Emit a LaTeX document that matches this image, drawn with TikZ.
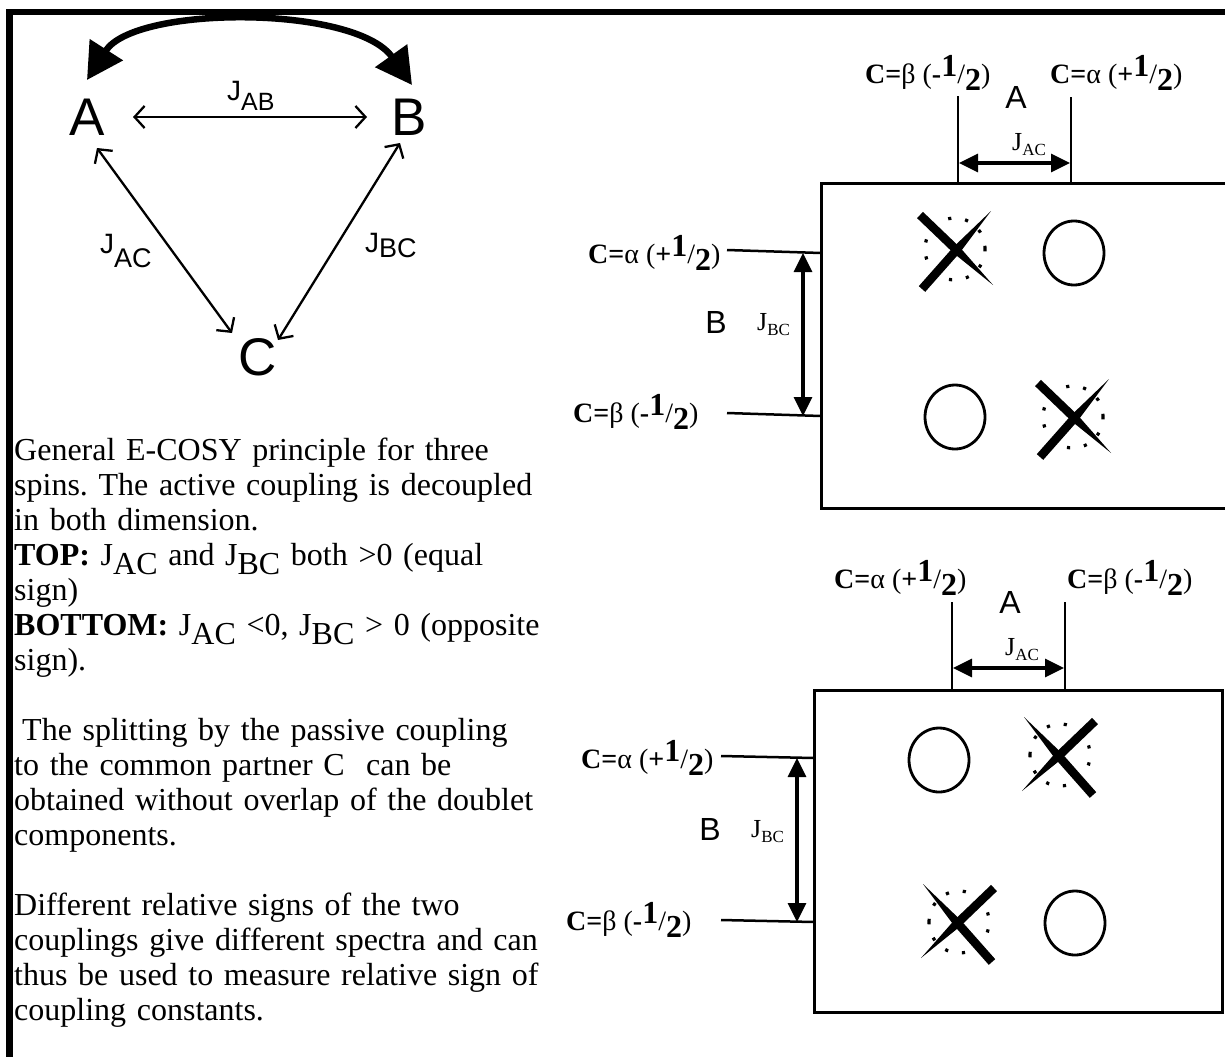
\documentclass[tikz,border=0pt]{standalone}
\usepackage{fontspec}
\setmainfont{Liberation Serif}
\newfontfamily\arialfam{Liberation Sans}
\usetikzlibrary{arrows.meta}
\newcommand\fsz[1]{\fontsize{#1}{#1}\selectfont}
\newcommand\labBeta{\textbf{C=}β (\textbf{-}\raisebox{7pt}{\fsz{32}\bfseries 1}/\raisebox{-7pt}{\fsz{32}\bfseries 2})}
\newcommand\labAlpha{\textbf{C=}α (\textbf{+}\raisebox{7pt}{\fsz{32}\bfseries 1}/\raisebox{-7pt}{\fsz{32}\bfseries 2})}
\newcommand\lowsub[2]{\raisebox{-#1}{#2}}
\newcommand\jr[1]{J\raisebox{-5pt}{\fsz{17}#1}}
\begin{document}
\begin{tikzpicture}[x=1pt,y=-1pt,
  bigl/.style={font=\arialfam\fsz{53}, inner sep=0pt, anchor=base},
  jlab/.style={font=\arialfam\fsz{28}, inner sep=0pt, anchor=base west},
  rlet/.style={font=\arialfam\fsz{32}, inner sep=0pt, anchor=base},
  jrl/.style={font=\fsz{26}, inner sep=0pt, anchor=base west},
  clab/.style={font=\fsz{28}, inner sep=0pt, anchor=base west},
  tri/.style={line width=2.3pt, {Straight Barb[length=10pt,width=22pt]}-{Straight Barb[length=10pt,width=22pt]}},
  dblarr/.style={line width=3.2pt, {Triangle[length=19pt,width=18pt]}-{Triangle[length=19pt,width=18pt]}},
  thinl/.style={line width=2.5pt},
  boxl/.style={line width=3pt},
  ring/.style={line width=2.8pt},
  xmk/.pic={
    \fill (-36.22,34.15) -- (-29.78,39.85) -- (4.72,0.85) -- (36,-41) -- (-1.72,-4.85) -- cycle;
    \fill (-37.98,-33.90) -- (-32.02,-40.10) -- (4.48,-5.10) -- (38,33) -- (-1.48,1.10) -- cycle;
    \draw[line width=3.2pt, dash pattern=on 3.2pt off 14pt] (0,-3) ellipse [x radius=30pt, y radius=31pt];
  }
]
\fill[white] (0,0) rectangle (1225,1057);
\useasboundingbox (0,0) rectangle (1225,1057);
% frame
\fill (6,9) rectangle (13,1057);
\fill (6,9) rectangle (1225,15);

% ---- triangle of spins ----
\node[bigl] (A) at (87,135) {A};
\node[bigl] (B) at (409,135) {B};
\node[bigl] (C) at (258,375) {C};
\coordinate (AtoB) at (133,117);
\coordinate (BtoA) at (367,117);
\coordinate (AtoC) at (97,148);
\coordinate (CtoA) at (232,333);
\coordinate (BtoC) at (400,143);
\coordinate (CtoB) at (278,340);
\coordinate (cA) at (87,80);
\coordinate (cB) at (412,85);
\draw[tri] (AtoB) -- (BtoA);
\draw[tri] (AtoC) -- (CtoA);
\draw[tri] (BtoC) -- (CtoB);
\draw[line width=6.5pt, {Triangle[length=36pt,width=38pt]}-{Triangle[length=36pt,width=38pt]}]
  (cA) .. controls (135,5) and (355,5) .. (cB);
\node[jlab] (jab) at (227,100) {J\raisebox{-10pt}{\fsz{25}AB}};
\node[jlab] (jac) at (100,253) {J\raisebox{-14pt}{\fsz{27}AC}};
\node[jlab] (jbc) at (365,252) {J\raisebox{-5pt}{\fsz{27}BC}};

% ---- body text ----
\node[anchor=north west, inner sep=0pt, text width=560pt, align=left,
      font=\fontsize{32}{35}\selectfont\frenchspacing] (body) at (14,438) {%
General E-COSY principle for three\\
spins. The active coupling is decoupled\\
in both dimension.\\
\textbf{TOP:} J\lowsub{9pt}{AC} and J\lowsub{9pt}{BC} both >0 (equal\\
sign)\\
\textbf{BOTTOM:} J\lowsub{9pt}{AC} <0, J\lowsub{9pt}{BC} > 0 (opposite\\
sign).\\[35pt]
\hspace*{8pt}The splitting by the passive coupling\\
to the common partner C\ \ can be\\
obtained without overlap of the doublet\\
components.\\[35pt]
Different relative signs of the two\\
couplings give different spectra and can\\
thus be used to measure relative sign of\\
coupling constants.};

% ---- top spectrum ----
\coordinate (b1nw) at (821,183);
\coordinate (b1se) at (1228,508);
\draw[boxl] (b1nw) rectangle (b1se);
\node[clab] (t1l) at (865,83) {\labBeta};
\node[clab] (t1r) at (1050,83) {\labAlpha};
\node[rlet] (t1A) at (1016,108) {A};
\coordinate (v1a) at (958,96);  \coordinate (v1ab) at (958,183);
\coordinate (v1b) at (1071,97); \coordinate (v1bb) at (1071,183);
\draw[thinl] (v1a) -- (v1ab);
\draw[thinl] (v1b) -- (v1bb);
\coordinate (a1l) at (959,163); \coordinate (a1r) at (1070,163);
\draw[dblarr] (a1l) -- (a1r);
\node[jrl] (t1j) at (1012,150) {\jr{AC}};
\node[clab] (t1u) at (588,263) {\labAlpha};
\node[clab] (t1d) at (573,422) {\labBeta};
\coordinate (h1a) at (727,250); \coordinate (h1ae) at (821,253);
\coordinate (h1b) at (727,413); \coordinate (h1be) at (821,416);
\draw[thinl] (h1a) -- (h1ae);
\draw[thinl] (h1b) -- (h1be);
\coordinate (a1t) at (803,253); \coordinate (a1b) at (803,416);
\draw[dblarr] (a1t) -- (a1b);
\node[rlet] (t1B) at (716,333) {B};
\node[jrl] (t1jb) at (757,330) {\jr{BC}};
\pic at (955,252) {xmk};
\pic at (1073,420) {xmk};
\draw[ring] (1074,253) ellipse [x radius=30pt, y radius=32pt];
\draw[ring] (955,417) ellipse [x radius=30pt, y radius=32pt];

% ---- bottom spectrum ----
\coordinate (b2nw) at (814,690);
\coordinate (b2se) at (1222,1012);
\draw[boxl] (b2nw) rectangle (b2se);
\node[clab] (t2l) at (834,588) {\labAlpha};
\node[clab] (t2r) at (1067,588) {\labBeta};
\node[rlet] (t2A) at (1010,613) {A};
\coordinate (v2a) at (952,602);  \coordinate (v2ab) at (952,690);
\coordinate (v2b) at (1065,602); \coordinate (v2bb) at (1065,690);
\draw[thinl] (v2a) -- (v2ab);
\draw[thinl] (v2b) -- (v2bb);
\coordinate (a2l) at (953,668); \coordinate (a2r) at (1064,668);
\draw[dblarr] (a2l) -- (a2r);
\node[jrl] (t2j) at (1005,655) {\jr{AC}};
\node[clab] (t2u) at (581,768) {\labAlpha};
\node[clab] (t2d) at (566,930) {\labBeta};
\coordinate (h2a) at (721,756); \coordinate (h2ae) at (814,758);
\coordinate (h2b) at (721,920); \coordinate (h2be) at (814,922);
\draw[thinl] (h2a) -- (h2ae);
\draw[thinl] (h2b) -- (h2be);
\coordinate (a2t) at (797,758); \coordinate (a2b) at (797,922);
\draw[dblarr] (a2t) -- (a2b);
\node[rlet] (t2B) at (710,840) {B};
\node[jrl] (t2jb) at (751,837) {\jr{BC}};
\pic[xscale=-1] at (1060,758) {xmk};
\pic[xscale=-1] at (959,925) {xmk};
\draw[ring] (939,760) ellipse [x radius=30pt, y radius=32pt];
\draw[ring] (1075,923) ellipse [x radius=30pt, y radius=32pt];
\end{tikzpicture}
\end{document}
